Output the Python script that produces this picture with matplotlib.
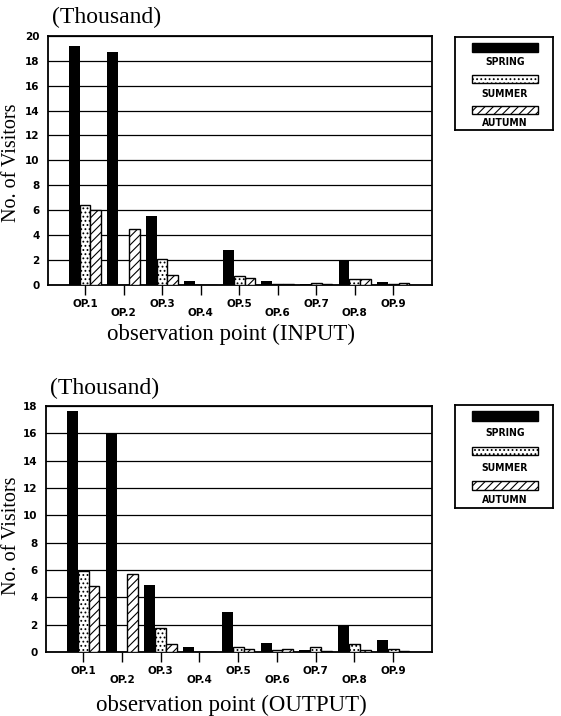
import matplotlib
matplotlib.use("Agg")
import matplotlib.pyplot as plt
from matplotlib.patches import Rectangle
import numpy as np

points = ["OP.1", "OP.2", "OP.3", "OP.4", "OP.5", "OP.6", "OP.7", "OP.8", "OP.9"]
seasons = ["SPRING", "SUMMER", "AUTUMN"]

# thousand visitors
input_spring = [19.2, 18.7, 5.5, 0.35, 2.8, 0.3, 0.1, 1.95, 0.25]
input_summer = [6.4, 0.0, 2.1, 0.0, 0.75, 0.1, 0.15, 0.45, 0.05]
input_autumn = [6.0, 4.5, 0.8, 0.0, 0.55, 0.05, 0.05, 0.45, 0.15]

output_spring = [17.6, 16.0, 4.9, 0.4, 2.9, 0.65, 0.15, 2.0, 0.9]
output_summer = [5.9, 0.0, 1.75, 0.0, 0.35, 0.15, 0.4, 0.6, 0.25]
output_autumn = [4.8, 5.7, 0.6, 0.02, 0.25, 0.25, 0.1, 0.15, 0.05]

serif = "Liberation Serif"
styles = [dict(color="black"),
          dict(facecolor="white", hatch="....", edgecolor="black"),
          dict(facecolor="white", hatch="////", edgecolor="black")]

plt.rcParams["hatch.linewidth"] = 0.8

W, H = 561, 716
fig = plt.figure(figsize=(W / 100, H / 100), dpi=100)


def draw_panel(rect, series, ymax, xlabel, xlabel_y, ylabel_y, legend_rect):
    ax = fig.add_axes(rect)
    x = np.arange(len(points))
    w = 0.28
    for k, vals in enumerate(series):
        ax.bar(x + (k - 1) * w, vals, w, linewidth=1.0, zorder=3, **styles[k])
    ax.set_xlim(-0.96, 9.0)
    ax.set_ylim(0, ymax)
    ax.set_yticks(np.arange(0, ymax + 1, 2))
    ax.yaxis.grid(True, color="black", linewidth=0.9, zorder=0)
    ax.set_axisbelow(True)
    ax.set_xticks(x)
    labels = [p if i % 2 == 0 else "\n" + p for i, p in enumerate(points)]
    ax.set_xticklabels(labels, fontsize=7.5, fontweight="bold", linespacing=0.9)
    ax.tick_params(axis="x", direction="out", length=7, width=1.0, pad=3)
    ax.tick_params(axis="y", length=0, pad=6, labelsize=7.5)
    for t in ax.get_yticklabels():
        t.set_fontweight("bold")
    for s in ax.spines.values():
        s.set_linewidth(1.3)
    fig.text(12 / W, 1 - ylabel_y / H, "No. of Visitors", fontfamily=serif, fontsize=14.5,
             rotation=90, ha="center", va="center")
    fig.text(231 / W, 1 - xlabel_y / H, xlabel, fontfamily=serif, fontsize=16.5,
             ha="center", va="center")
    ax.text(0.01, 1.03, "(Thousand)", transform=ax.transAxes, fontfamily=serif,
            fontsize=17, ha="left", va="bottom")

    lg = fig.add_axes(legend_rect)
    lg.set_xlim(0, 1)
    lg.set_ylim(0, 1)
    lg.set_xticks([])
    lg.set_yticks([])
    for s in lg.spines.values():
        s.set_linewidth(1.3)
    sw = [(0.84, 0.10), (0.51, 0.08), (0.17, 0.09)]
    ty = [0.73, 0.39, 0.08]
    for k in range(3):
        lg.add_patch(Rectangle((0.17, sw[k][0]), 0.68, sw[k][1], linewidth=1.0, **styles[k]))
        lg.text(0.51, ty[k], seasons[k], ha="center", va="center", fontsize=7.5,
                fontweight="bold", fontstretch="condensed")
    return ax


draw_panel([0.0856, 0.602, 0.684, 0.348], [input_spring, input_summer, input_autumn], 20,
           "observation point (INPUT)", 334, 163, [0.811, 0.818, 0.175, 0.130])
draw_panel([0.082, 0.0894, 0.688, 0.3436], [output_spring, output_summer, output_autumn], 18,
           "observation point (OUTPUT)", 705, 536, [0.811, 0.2905, 0.175, 0.144])

fig.savefig("out.png", dpi=100)
